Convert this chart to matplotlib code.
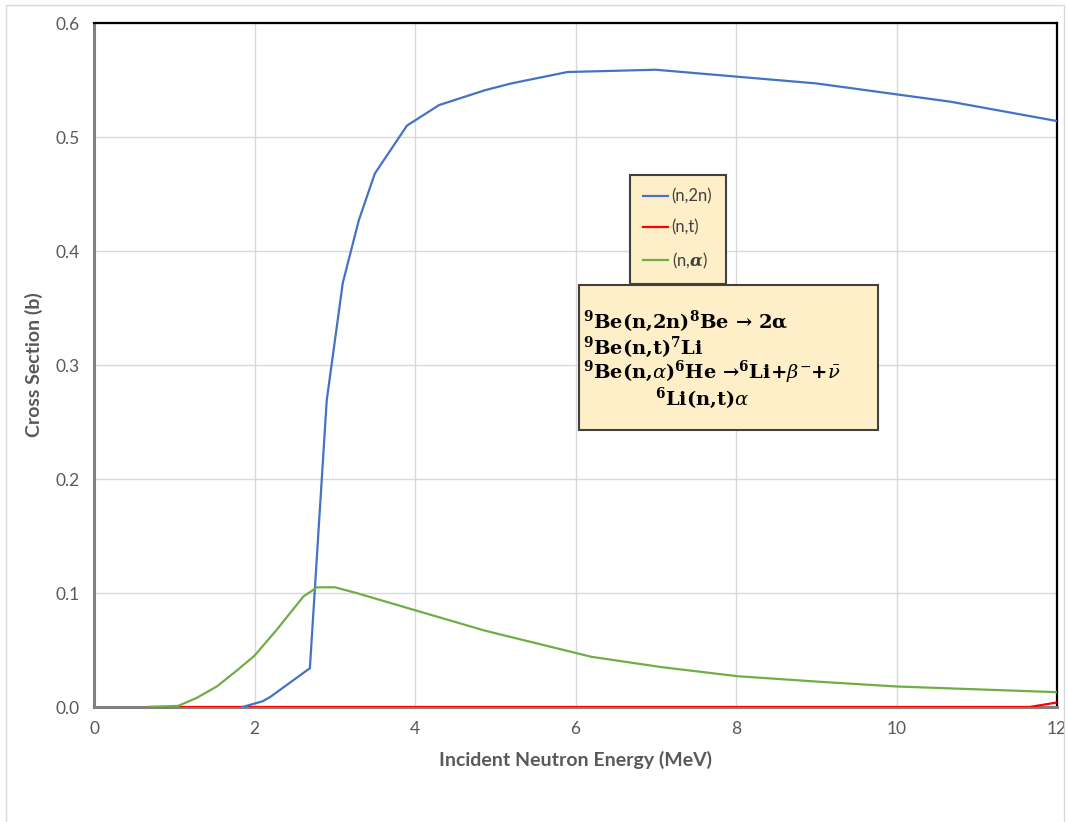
import matplotlib
matplotlib.use("Agg")
import matplotlib.pyplot as plt
from matplotlib.patches import Rectangle

plt.rcParams['font.family'] = ['Lato', 'DejaVu Sans']
plt.rcParams['mathtext.fontset'] = 'dejavuserif'

# Cross-section data (MeV, barns)
n2n_energy = [1.85, 2.1, 2.2, 2.69, 2.9, 3.1, 3.3, 3.5, 3.9, 4.3, 4.87, 5.2, 5.9, 7.0, 9.0, 10.67, 12.0]
n2n_xs = [0.0, 0.005, 0.009, 0.034, 0.269, 0.372, 0.427, 0.468, 0.51, 0.528, 0.541, 0.547, 0.557, 0.559, 0.547, 0.531, 0.514]

nt_energy = [0.67, 11.66, 12.0]
nt_xs = [0.0, 0.0, 0.004]

na_energy = [0.67, 1.05, 1.28, 1.53, 1.78, 2.0, 2.28, 2.61, 2.78, 3.0, 3.27, 3.85, 4.87, 6.2, 7.07, 8.02, 9.07, 10.0, 12.0]
na_xs = [0.0, 0.001, 0.008, 0.018, 0.032, 0.045, 0.068, 0.097, 0.105, 0.105, 0.100, 0.088, 0.067, 0.044, 0.035, 0.027, 0.022, 0.018, 0.013]

x_ticks = [0, 2, 4, 6, 8, 10, 12]
y_ticks = [0.0, 0.1, 0.2, 0.3, 0.4, 0.5, 0.6]

reactions = [
    r"$^{\mathbf{9}}$Be(n,2n)$^{\mathbf{8}}$Be → 2α",
    r"$^{\mathbf{9}}$Be(n,t)$^{\mathbf{7}}$Li",
    r"$^{\mathbf{9}}$Be(n,$\alpha$)$^{\mathbf{6}}$He →$^{\mathbf{6}}$Li+$\beta^{-}$+$\bar{\nu}$",
    r"$^{\mathbf{6}}$Li(n,t)$\alpha$",
]

W, H = 1068, 822
fig = plt.figure(figsize=(W / 100, H / 100), dpi=100)
ax = fig.add_axes([94 / W, 1 - 707 / H, (1057 - 94) / W, (707 - 23) / H])

# light outer chart border
fig.patches.append(Rectangle((6 / W, -0.01), (1064 - 6) / W, (H - 5) / H + 0.01,
                             transform=fig.transFigure, fill=False,
                             edgecolor="#d9d9d9", linewidth=1))

ax.plot(n2n_energy, n2n_xs, color="#4472C4", linewidth=1.6, label="(n,2n)", zorder=4)
ax.plot(nt_energy, nt_xs, color="#FF0000", linewidth=1.6, label="(n,t)", zorder=3)
ax.plot(na_energy, na_xs, color="#70AD47", linewidth=1.6, label=r"(n,$\boldsymbol{\alpha}$)", zorder=5)

ax.set_xlim(0, 12)
ax.set_ylim(0, 0.6)
ax.set_xticks(x_ticks)
ax.set_yticks(y_ticks)
ax.set_xticklabels([str(v) for v in x_ticks])
ax.set_yticklabels([f"{v:.1f}" for v in y_ticks])
ax.tick_params(length=0, labelsize=12.5, labelcolor="#595959", pad=10)
ax.grid(True, color="#d9d9d9", linewidth=1)
ax.set_axisbelow(True)

for side in ["top", "right"]:
    ax.spines[side].set_color("black")
    ax.spines[side].set_linewidth(1.6)
for side in ["left", "bottom"]:
    ax.spines[side].set_color("#808080")
    ax.spines[side].set_linewidth(2.2)

ax.set_xlabel("Incident Neutron Energy (MeV)", fontsize=14, fontweight="bold",
              color="#595959", labelpad=10)
ax.set_ylabel("Cross Section (b)", fontsize=14, fontweight="bold",
              color="#595959", labelpad=9)

leg = ax.legend(loc="upper left", bbox_to_anchor=(630 / W, 1 - 175 / H),
                bbox_transform=fig.transFigure, fontsize=12, frameon=True,
                fancybox=False, handlelength=1.5, handletextpad=0.2,
                labelspacing=0.9, borderpad=0.8, borderaxespad=0)
leg.get_frame().set_facecolor("#FFEFC9")
leg.get_frame().set_edgecolor("#404040")
leg.get_frame().set_linewidth(1.5)
leg.get_frame().set_alpha(1)
for t in leg.get_texts():
    t.set_color("#404040")

# reaction annotation box
fig.patches.append(Rectangle((579 / W, 1 - 430 / H), (878 - 579) / W, (430 - 285) / H,
                             transform=fig.transFigure, facecolor="#FFEFC9",
                             edgecolor="#404040", linewidth=1.5, zorder=10))
line_pos = [(583, 321), (583, 347), (583, 372), (655, 398)]
for txt, (px, py) in zip(reactions, line_pos):
    fig.text(px / W, 1 - py / H, txt, fontsize=14, fontweight="bold",
             family=["DejaVu Serif"], color="black",
             va="center", ha="left", zorder=11)

fig.savefig("out.png", dpi=100)
